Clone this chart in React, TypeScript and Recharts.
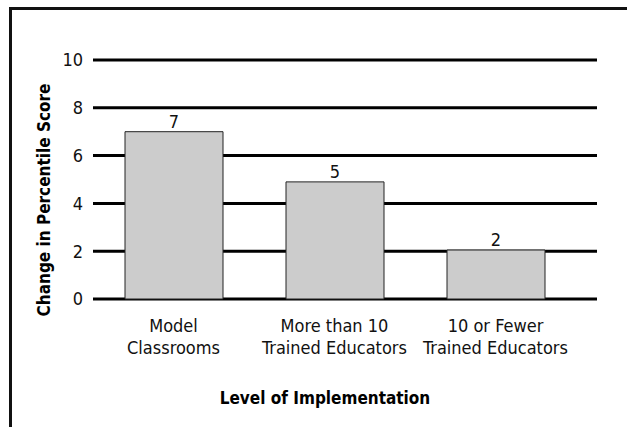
import { BarChart, Bar, XAxis, YAxis, CartesianGrid, LabelList, Label } from 'recharts';

const categories = ['Model\nClassrooms', 'More than 10\nTrained Educators', '10 or Fewer\nTrained Educators'];
const scoreChange = [7, 4.9, 2.05];
const yTicks = [0, 2, 4, 6, 8, 10];

const data = categories.map((name, i) => ({ name, value: scoreChange[i] }));

const textFont = '"DejaVu Sans Condensed", "Liberation Sans", Arial, sans-serif';
const titleFont = '"DejaVu Sans", sans-serif';

function CategoryTick(props: any) {
  const { x, y, payload } = props;
  const lines = String(payload.value).split('\n');
  return (
    <text x={x} y={y} textAnchor="middle" fill="#111" fontFamily={textFont} fontSize={18}>
      {lines.map((l, i) => (
        <tspan key={i} x={x} dy={i === 0 ? 25 : 22}>{l}</tspan>
      ))}
    </text>
  );
}

export default function App() {
  return (
    <div style={{ position: 'fixed', left: 0, top: 0, width: 627, height: 427, overflow: 'hidden', background: '#fff' }}>
      <div style={{ position: 'absolute', left: 9, top: 7, width: 700, height: 500, borderTop: '3px solid #111', borderLeft: '3px solid #111' }} />
      <div style={{ position: 'absolute', left: 0, top: 0 }}>
        <BarChart width={627} height={427} data={data} margin={{ top: 60, right: 30, bottom: 28, left: 53 }} barSize={98}>
          <CartesianGrid vertical={false} stroke="#000" strokeWidth={3} />
          <XAxis
            dataKey="name"
            axisLine={false}
            tickLine={false}
            interval={0}
            padding={{ left: 0, right: 21 }}
            tick={<CategoryTick />}
            height={100}
          >
            <Label value="Level of Implementation" position="insideBottom" offset={-5} dx={-20} fill="#000" fontFamily={titleFont} fontWeight="bold" fontSize={17} style={{ fontStretch: 'condensed' }} />
          </XAxis>
          <YAxis
            width={40}
            domain={[0, 10]}
            ticks={yTicks}
            axisLine={false}
            tickLine={false}
            tickSize={0}
            tickMargin={10}
            tick={{ fill: '#111', fontFamily: textFont, fontSize: 18 }}
          />
          <Bar dataKey="value" fill="#cccccc" stroke="#222" strokeWidth={1} isAnimationActive={false}>
            <LabelList dataKey="value" position="top" offset={4} formatter={(v: any) => Math.round(Number(v))} fill="#111" fontFamily={textFont} fontSize={18} />
          </Bar>
        </BarChart>
      </div>
      <div
        style={{
          position: 'absolute',
          left: 44,
          top: 200,
          transform: 'translate(-50%, -50%) rotate(-90deg)',
          whiteSpace: 'nowrap',
          fontFamily: titleFont,
          fontWeight: 'bold',
          fontSize: 17,
          fontStretch: 'condensed',
          color: '#000',
          lineHeight: 1,
        }}
      >
        Change in Percentile Score
      </div>
    </div>
  );
}
